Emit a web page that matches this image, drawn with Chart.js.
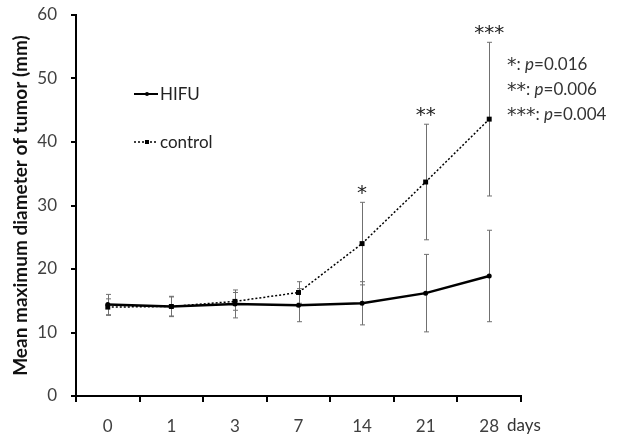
<!DOCTYPE html>
<html>
<head>
<meta charset="utf-8">
<script src="https://cdn.jsdelivr.net/npm/chart.js@4.4.1/dist/chart.umd.min.js"></script>
<style>
  html, body { margin: 0; padding: 0; background: #ffffff; }
  #wrap { width: 632px; height: 440px; }
</style>
</head>
<body>
<div id="wrap"><canvas id="c" width="632" height="440"></canvas></div>
<script>
// ---- data ----
const categories = ['0', '1', '3', '7', '14', '21', '28'];
const hifuMean = [14.4, 14.1, 14.5, 14.3, 14.6, 16.2, 18.9];
const hifuSD = [1.6, 1.6, 2.2, 2.6, 3.4, 6.1, 7.2];
const controlMean = [14.0, 14.1, 14.9, 16.3, 24.0, 33.7, 43.6];
const controlSD = [1.3, 1.5, 1.4, 1.7, 6.5, 9.1, 12.1];
const significance = ['', '', '', '', '*', '**', '***'];
const pStars = ['*', '**', '***'];
const pValues = ['0.016', '0.006', '0.004'];
const yTickValues = [0, 10, 20, 30, 40, 50, 60];
const seriesNames = ['HIFU', 'control'];
const xUnit = 'days';
const yTitle = 'Mean maximum diameter of tumor (mm)';

const FONT = 'Lato, "Open Sans", sans-serif';
const STARFONT = '"DejaVu Sans", sans-serif';
const sdSets = [hifuSD, controlSD];

const errorBarPlugin = {
  id: 'errorBars',
  beforeDatasetsDraw(chart) {
    const ctx = chart.ctx;
    const ys = chart.scales.y;
    ctx.save();
    ctx.strokeStyle = '#707070';
    ctx.lineWidth = 1;
    chart.data.datasets.forEach((ds, i) => {
      const meta = chart.getDatasetMeta(i);
      const sd = sdSets[i];
      meta.data.forEach((pt, j) => {
        const x = Math.round(pt.x) + 0.5;
        const yTop = ys.getPixelForValue(ds.data[j] + sd[j]);
        const yBot = ys.getPixelForValue(ds.data[j] - sd[j]);
        ctx.beginPath();
        ctx.moveTo(x, yTop); ctx.lineTo(x, yBot);
        ctx.moveTo(x - 2.5, yTop); ctx.lineTo(x + 2.5, yTop);
        ctx.moveTo(x - 2.5, yBot); ctx.lineTo(x + 2.5, yBot);
        ctx.stroke();
      });
    });
    ctx.restore();
  }
};

const annotPlugin = {
  id: 'annot',
  afterDraw(chart) {
    const ctx = chart.ctx;
    const xs = chart.scales.x, ys = chart.scales.y;
    const area = chart.chartArea;
    ctx.save();
    // significance stars above control error bars
    ctx.fillStyle = '#222';
    ctx.font = '20px ' + STARFONT;
    ctx.textAlign = 'center';
    ctx.textBaseline = 'alphabetic';
    significance.forEach((s, j) => {
      if (!s) return;
      const x = xs.getPixelForValue(j);
      const yTop = ys.getPixelForValue(controlMean[j] + controlSD[j]);
      ctx.fillText(s, x, yTop - 3);
    });
    // p-value notes
    ctx.textAlign = 'left';
    ctx.textBaseline = 'alphabetic';
    ctx.fillStyle = '#333';
    pStars.forEach((s, k) => {
      let x = area.right - 14;
      const y = area.top + 55 + k * 25;
      ctx.font = '19px ' + STARFONT;
      ctx.fillText(s, x, y + 1);
      x += ctx.measureText(s).width;
      ctx.font = '17px ' + FONT;
      ctx.fillText(': ', x, y);
      x += ctx.measureText(': ').width;
      ctx.font = 'italic 17px ' + FONT;
      ctx.fillText('p', x, y);
      x += ctx.measureText('p').width;
      ctx.font = '17px ' + FONT;
      ctx.fillText('=' + pValues[k], x, y);
    });
    // unit label on x axis
    ctx.fillStyle = '#333';
    ctx.font = '17px ' + FONT;
    ctx.textBaseline = 'middle';
    ctx.fillText(xUnit, area.right - 14, area.bottom + 30);
    // legend
    const items = chart.data.datasets;
    items.forEach((ds, i) => {
      const y = area.top + 79 + i * 48;
      const x0 = area.left + 58, x1 = area.left + 82;
      ctx.strokeStyle = ds.borderColor;
      ctx.lineWidth = i === 0 ? 2 : 1.3;
      ctx.setLineDash(ds.borderDash || []);
      ctx.beginPath(); ctx.moveTo(x0, y); ctx.lineTo(x1, y); ctx.stroke();
      ctx.setLineDash([]);
      ctx.fillStyle = '#000';
      const cx = (x0 + x1) / 2 + 1;
      if (ds.pointStyle === 'rect') {
        ctx.fillRect(cx - 2, y - 2, 4, 4);
      } else {
        ctx.beginPath(); ctx.arc(cx, y, 2, 0, Math.PI * 2); ctx.fill();
      }
      ctx.fillStyle = '#222';
      ctx.font = '17px ' + FONT;
      ctx.textAlign = 'left';
      ctx.textBaseline = 'middle';
      ctx.fillText(ds.label, x1 + 2, y + 1);
    });
    ctx.restore();
  }
};

new Chart(document.getElementById('c'), {
  type: 'line',
  data: {
    labels: categories,
    datasets: [
      {
        label: seriesNames[0],
        data: hifuMean,
        borderColor: '#000',
        backgroundColor: '#000',
        borderWidth: 2.5,
        pointStyle: 'circle',
        pointRadius: 2.5,
        pointBorderWidth: 0,
        tension: 0
      },
      {
        label: seriesNames[1],
        data: controlMean,
        borderColor: '#000',
        backgroundColor: '#000',
        borderWidth: 1.5,
        borderDash: [2, 2],
        pointStyle: 'rect',
        pointRadius: 3.5,
        pointBorderWidth: 0,
        tension: 0
      }
    ]
  },
  options: {
    responsive: false,
    animation: false,
    devicePixelRatio: 1,
    layout: { padding: { left: 0, right: 111, top: 15, bottom: 0 } },
    plugins: {
      legend: { display: false },
      tooltip: { enabled: false }
    },
    scales: {
      x: {
        type: 'category',
        offset: true,
        grid: { display: true, offset: true, drawOnChartArea: false, drawTicks: true, tickLength: 6, color: '#000', lineWidth: 2 },
        border: { display: true, color: '#000', width: 2 },
        ticks: { color: '#404040', font: { family: FONT, size: 17 }, padding: 14, maxRotation: 0 },
        afterFit(scale) { scale.height = 44; scale.paddingLeft = 0; scale.paddingRight = 0; }
      },
      y: {
        min: 0,
        max: 60,
        afterBuildTicks(scale) { scale.ticks = yTickValues.map(v => ({ value: v })); },
        grid: { display: true, drawOnChartArea: false, drawTicks: true, tickLength: 5, color: '#000', lineWidth: 2 },
        border: { display: true, color: '#000', width: 2 },
        ticks: { color: '#404040', font: { family: FONT, size: 17 }, padding: 14 },
        title: { display: true, text: yTitle, color: '#111', font: { family: FONT, size: 19, weight: 'bold' }, padding: { top: 9, bottom: 4 } },
        afterFit(scale) { scale.width = 76; scale.paddingTop = 0; scale.paddingBottom = 0; }
      }
    }
  },
  plugins: [errorBarPlugin, annotPlugin]
});
</script>
</body>
</html>
